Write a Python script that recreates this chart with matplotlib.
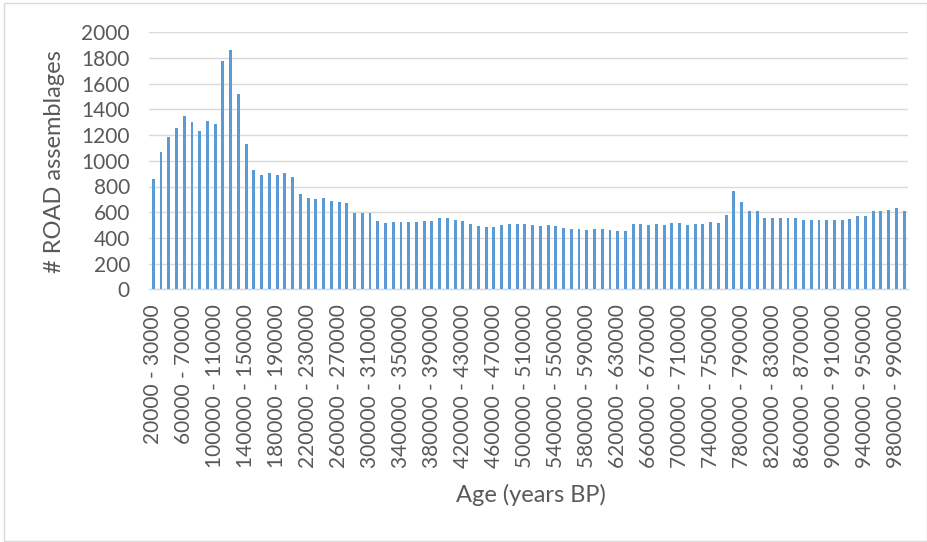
import matplotlib
matplotlib.use("Agg")
import matplotlib.pyplot as plt
from matplotlib.patches import Rectangle

bin_starts = list(range(20000, 1000000, 10000))
categories = [f"{s} - {s + 10000}" for s in bin_starts]

counts = [
    857, 1067, 1187, 1257, 1350, 1299, 1234, 1306, 1288, 1774,
    1862, 1522, 1130, 927, 888, 904, 888, 906, 875, 740,
    709, 701, 714, 691, 678, 673, 597, 597, 597, 530,
    517, 525, 525, 522, 525, 535, 530, 556, 553, 543,
    532, 506, 494, 488, 486, 501, 506, 509, 509, 501,
    496, 499, 491, 478, 473, 473, 460, 468, 468, 460,
    457, 457, 506, 506, 504, 506, 504, 519, 519, 501,
    506, 506, 522, 519, 579, 764, 678, 613, 613, 558,
    558, 558, 558, 558, 543, 543, 538, 538, 538, 538,
    548, 569, 569, 608, 608, 621, 636, 608,
]

yticks = list(range(0, 2001, 200))

plt.rcParams['font.family'] = ['Lato', 'DejaVu Sans']
text_color = '#595959'

fig = plt.figure(figsize=(9.28, 5.42), dpi=100)
ax = fig.add_axes([149.4 / 928, 1 - 289.3 / 542, (908 - 149.4) / 928, (289.3 - 32.3) / 542])

x = list(range(len(categories)))
ax.bar(x, counts, width=0.38, color='#5B9BD5', zorder=3)

ax.set_xlim(-0.5, len(categories) - 0.5)
ax.set_ylim(0, 2000)
ax.set_yticks(yticks)
ax.set_yticklabels([str(v) for v in yticks])
ax.yaxis.grid(True, color='#D9D9D9', linewidth=1.0, zorder=0)
ax.set_axisbelow(True)

ax.set_xticks(x[::4])
ax.set_xticklabels(categories[::4], rotation=90)

for s in ['top', 'right', 'left']:
    ax.spines[s].set_visible(False)
ax.spines['bottom'].set_color('#D9D9D9')
ax.spines['bottom'].set_linewidth(1.0)

ax.tick_params(axis='both', length=0, labelsize=15, colors=text_color)
ax.tick_params(axis='y', pad=14)
ax.tick_params(axis='x', pad=11)

fig.text(55 / 928, 1 - 162 / 542, '# ROAD assemblages', fontsize=17, color=text_color,
         rotation=90, ha='center', va='center')
fig.text(531 / 928, 1 - 495 / 542, 'Age (years BP)', fontsize=17, color=text_color,
         ha='center', va='center')

fig.patches.append(Rectangle((4 / 928, 1 / 542), 923 / 928, 538 / 542, transform=fig.transFigure,
                             fill=False, edgecolor='#D9D9D9', linewidth=1.0))

fig.savefig('out.png', dpi=100)
